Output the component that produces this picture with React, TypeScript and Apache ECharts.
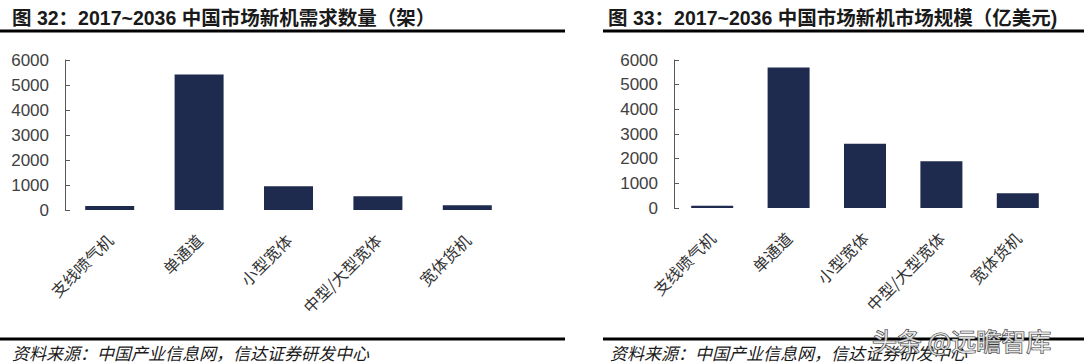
import React, { useEffect, useRef } from "react";
import * as echarts from "echarts";

const categories = ["支线喷气机", "单通道", "小型宽体", "中型/大型宽体", "宽体货机"];
const demandCount = [160, 5420, 950, 550, 190];
const marketSize = [90, 5700, 2600, 1900, 600];
const yTicks = [0, 1000, 2000, 3000, 4000, 5000, 6000];

const title1 = "图 32：2017~2036 中国市场新机需求数量（架）";
const title2 = "图 33：2017~2036 中国市场新机市场规模（亿美元)";
const sourceText = "资料来源：中国产业信息网，信达证券研发中心";
const watermark = "头条 @远瞻智库";

const BAR = "#1e2b4e";
const LATIN = "'Liberation Sans', Arial, 'Noto Sans CJK SC', sans-serif";
const CJK = "'Noto Sans CJK SC', 'Liberation Sans', sans-serif";

export default function App() {
  const ref = useRef<HTMLDivElement>(null);
  useEffect(() => {
    document.body.style.margin = "0";
    const chart = echarts.init(ref.current!, undefined, { renderer: "svg" });
    const yAxisCommon = (gridIndex: number) => ({
      type: "value" as const,
      gridIndex,
      min: yTicks[0],
      max: yTicks[yTicks.length - 1],
      interval: yTicks[1] - yTicks[0],
      axisLine: { show: true, lineStyle: { color: "#595959", width: 1 } },
      axisTick: { show: true, inside: true, length: 5, lineStyle: { color: "#595959" } },
      splitLine: { show: false },
      axisLabel: {
        fontSize: 17,
        color: "#404040",
        fontFamily: LATIN,
        margin: 16,
        formatter: (v: number) => String(v),
      },
    });
    const xAxisCommon = (gridIndex: number) => ({
      type: "category" as const,
      gridIndex,
      data: categories,
      axisLine: { show: false },
      axisTick: { show: false },
      axisLabel: {
        rotate: 45,
        fontSize: 16,
        color: "#333333",
        fontFamily: CJK,
        margin: 27,
        interval: 0,
      },
    });
    const line = (x1: number, x2: number, y: number) => ({
      type: "line",
      shape: { x1, y1: y, x2, y2: y },
      style: { stroke: "#000", lineWidth: 3 },
      z: 10,
    });
    const titleText = (x: number, text: string) => ({
      type: "text",
      x,
      y: 18,
      style: {
        text,
        fontSize: 19.5,
        fontWeight: "bold",
        fill: "#1a1a1a",
        fontFamily: LATIN,
        verticalAlign: "middle",
      },
    });
    const srcText = (x: number) => ({
      type: "text",
      x,
      y: 352,
      style: {
        text: sourceText,
        fontSize: 17,
        fontStyle: "italic",
        fill: "#1a1a1a",
        fontFamily: CJK,
        verticalAlign: "middle",
      },
    });
    chart.setOption({
      animation: false,
      grid: [
        { left: 65, top: 60, width: 447, height: 150 },
        { left: 674, top: 60, width: 382, height: 148 },
      ],
      xAxis: [xAxisCommon(0), xAxisCommon(1)],
      yAxis: [yAxisCommon(0), yAxisCommon(1)],
      series: [
        {
          type: "bar",
          xAxisIndex: 0,
          yAxisIndex: 0,
          data: demandCount,
          barWidth: 49,
          itemStyle: { color: BAR },
        },
        {
          type: "bar",
          xAxisIndex: 1,
          yAxisIndex: 1,
          data: marketSize,
          barWidth: 42,
          itemStyle: { color: BAR },
        },
      ],
      graphic: [
        titleText(12, title1),
        titleText(608, title2),
        line(0, 565, 31),
        line(603, 1084, 31),
        line(0, 565, 339),
        line(603, 1084, 339),
        srcText(12),
        srcText(610),
        {
          type: "text",
          x: 872,
          y: 340,
          z: 20,
          style: {
            text: watermark,
            fontSize: 25,
            fill: "rgba(255,255,255,0.75)",
            stroke: "#3a3a3a",
            lineWidth: 1.2,
            fontFamily: CJK,
            verticalAlign: "middle",
          },
        },
      ],
    });
    return () => chart.dispose();
  }, []);
  return (
    <div
      ref={ref}
      style={{ position: "absolute", left: 0, top: 0, width: 1084, height: 364, background: "#fff" }}
    />
  );
}
